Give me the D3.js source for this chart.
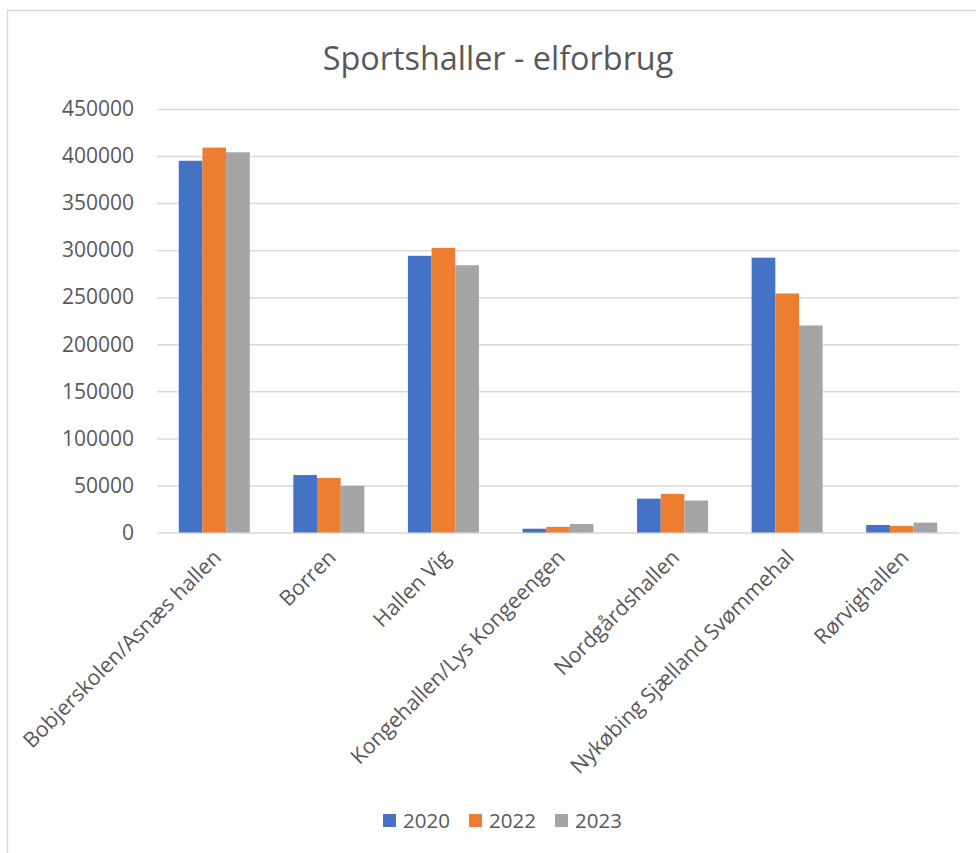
<!DOCTYPE html>
<html>
<head>
<meta charset="utf-8">
<script src="https://cdn.jsdelivr.net/npm/d3@7"></script>
<style>
  html, body { margin: 0; padding: 0; background: #fff; }
  svg { display: block; font-family: "Open Sans", "Noto Sans", sans-serif; }
</style>
</head>
<body>
<svg id="chart" width="976" height="853"></svg>
<script>
// Electricity use per sports hall, kWh
const categories = [
  "Bobjerskolen/Asnæs hallen",
  "Borren",
  "Hallen Vig",
  "Kongehallen/Lys Kongeengen",
  "Nordgårdshallen",
  "Nykøbing Sjælland Svømmehal",
  "Rørvighallen"
];
const years = ["2020", "2022", "2023"];
const values2020 = [395000, 61000, 294000, 4000, 36000, 292000, 8000];
const values2022 = [409000, 58000, 302500, 6000, 41000, 254000, 7000];
const values2023 = [404000, 49500, 284000, 9000, 34000, 220000, 10500];
const yTicks = [0, 50000, 100000, 150000, 200000, 250000, 300000, 350000, 400000, 450000];
const colors = ["#4472C4", "#ED7D31", "#A5A5A5"];

const seriesValues = [values2020, values2022, values2023];
const rows = categories.map((c, i) => ({
  category: c,
  bars: years.map((y, k) => ({ year: y, value: seriesValues[k][i], color: colors[k] }))
}));

const svg = d3.select("#chart");
const textColor = "#595959";

// outer chart frame
svg.append("rect")
  .attr("x", 7.5).attr("y", 10.5)
  .attr("width", 1000).attr("height", 900)
  .attr("fill", "#fff")
  .attr("stroke", "#D9D9D9").attr("stroke-width", 1.5);

const plot = { left: 157, right: 959, top: 109, bottom: 532.5 };

const y = d3.scaleLinear().domain([0, 450000]).range([plot.bottom, plot.top]);
const x0 = d3.scaleBand().domain(categories).range([plot.left, plot.right]).padding(0);
const step = x0.step();
const x1 = d3.scaleBand().domain(years).range([step * 0.19, step * 0.81]).padding(0);

// title
svg.append("text")
  .attr("x", 498).attr("y", 70)
  .attr("text-anchor", "middle")
  .attr("fill", textColor)
  .attr("font-size", 32.4)
  .text("Sportshaller - elforbrug");

// gridlines + y labels
const yAxis = d3.axisLeft(y)
  .tickValues(yTicks)
  .tickSize(-(plot.right - plot.left))
  .tickPadding(23)
  .tickFormat(d3.format("d"));

const yG = svg.append("g")
  .attr("transform", `translate(${plot.left},0)`)
  .call(yAxis);
yG.select(".domain").remove();
yG.selectAll(".tick line").attr("stroke", "#D9D9D9").attr("stroke-width", 1.5);
yG.selectAll(".tick text")
  .attr("fill", textColor)
  .attr("font-size", 21)
  .attr("font-family", "Open Sans, sans-serif");

// bars
const groups = svg.append("g").selectAll("g")
  .data(rows)
  .join("g")
  .attr("transform", d => `translate(${x0(d.category)},0)`);

groups.selectAll("rect")
  .data(d => d.bars)
  .join("rect")
  .attr("x", d => x1(d.year))
  .attr("width", x1.bandwidth())
  .attr("y", d => y(d.value))
  .attr("height", d => y(0) - y(d.value))
  .attr("fill", d => d.color);

// category labels, rotated
const xAxis = d3.axisBottom(x0).tickSize(0).tickPadding(0);
const xG = svg.append("g")
  .attr("transform", `translate(0,${plot.bottom})`)
  .call(xAxis);
xG.select(".domain").remove();
xG.selectAll(".tick text")
  .attr("fill", textColor)
  .attr("font-size", 21.3)
  .attr("font-family", "Open Sans, sans-serif")
  .attr("text-anchor", "end")
  .attr("dy", "0.35em")
  .attr("transform", "translate(3,21) rotate(-45)");

// legend
const legend = svg.append("g");
const legendX = [383, 469, 555];
years.forEach((yr, k) => {
  const g = legend.append("g").attr("transform", `translate(${legendX[k]},814)`);
  g.append("rect").attr("width", 13).attr("height", 13).attr("fill", colors[k]);
  g.append("text")
    .attr("x", 20).attr("y", 14)
    .attr("fill", textColor)
    .attr("font-size", 20.5)
    .text(yr);
});
</script>
</body>
</html>
